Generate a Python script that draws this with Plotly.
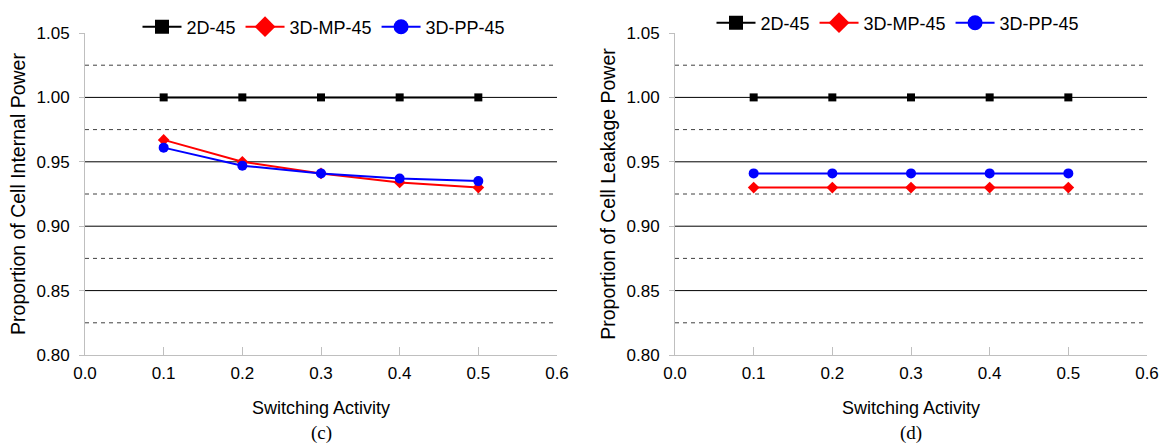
import plotly.graph_objects as go

# ---- data ----
switching = [0.1, 0.2, 0.3, 0.4, 0.5]
series_names = ["2D-45", "3D-MP-45", "3D-PP-45"]

internal_2d = [1.000, 1.000, 1.000, 1.000, 1.000]
internal_mp = [0.967, 0.950, 0.941, 0.934, 0.930]
internal_pp = [0.961, 0.947, 0.941, 0.937, 0.935]

leakage_2d = [1.000, 1.000, 1.000, 1.000, 1.000]
leakage_mp = [0.930, 0.930, 0.930, 0.930, 0.930]
leakage_pp = [0.941, 0.941, 0.941, 0.941, 0.941]

y_titles = ["Proportion of Cell Internal Power", "Proportion of Cell Leakage Power"]
panel_labels = ["(c)", "(d)"]
x_title = "Switching Activity"

solid_grid = [0.85, 0.90, 0.95, 1.00]
dashed_grid = [0.825, 0.875, 0.925, 0.975, 1.025]

# ---- styles ----
W, H = 1164, 448
FONT = "Arial, Liberation Sans, sans-serif"
colors = ["#000000", "#ff0000", "#0000ff"]
symbols = ["square", "diamond", "circle"]
plot_sizes = [8, 9, 10]
legend_sizes = [14, 16, 15]

x_domains = [[85 / W, 557 / W], [675 / W, 1147 / W]]
y_domain = [1 - 355 / H, 1 - 33 / H]

fig = go.Figure()

panels = [
    (internal_2d, internal_mp, internal_pp),
    (leakage_2d, leakage_mp, leakage_pp),
]

for p, values in enumerate(panels):
    xa = "x" if p == 0 else "x2"
    ya = "y" if p == 0 else "y2"
    leg = "legend" if p == 0 else "legend2"
    for i, (name, vals) in enumerate(zip(series_names, values)):
        fig.add_trace(go.Scatter(
            x=switching, y=vals, name=name, mode="lines+markers",
            line=dict(color=colors[i], width=2),
            marker=dict(symbol=symbols[i], size=plot_sizes[i], color=colors[i]),
            xaxis=xa, yaxis=ya, showlegend=False,
        ))
    # legend entries (larger symbols, like the original)
    for i, name in enumerate(series_names):
        fig.add_trace(go.Scatter(
            x=[None], y=[None], name=name, mode="lines+markers",
            line=dict(color=colors[i], width=2),
            marker=dict(symbol=symbols[i], size=legend_sizes[i], color=colors[i]),
            xaxis=xa, yaxis=ya, showlegend=True, legend=leg,
        ))

axis_common_x = dict(
    range=[0, 0.6], dtick=0.1, tick0=0, tickformat=".1f", automargin=False,
    showgrid=False, zeroline=False, showline=True, linecolor="#bfbfbf", linewidth=1,
    ticks="inside", ticklen=8, tickcolor="#bfbfbf", ticklabelstandoff=3,
    tickfont=dict(family=FONT, size=17, color="#000"),
    title=dict(text=x_title, font=dict(family=FONT, size=18, color="#000"), standoff=18),
)
axis_common_y = dict(
    range=[0.8, 1.05], dtick=0.05, tick0=0.8, tickformat=".2f", automargin=False,
    showgrid=False, zeroline=False, showline=True, linecolor="#bfbfbf", linewidth=1,
    ticks="outside", ticklen=5, tickcolor="#bfbfbf", ticklabelstandoff=6,
    tickfont=dict(family=FONT, size=17, color="#000"),
    domain=y_domain,
)

legend_common = dict(orientation="h", xanchor="center", yanchor="middle", itemwidth=39,
                     font=dict(family=FONT, size=18, color="#000"), bgcolor="rgba(0,0,0,0)")

ytitle_font = dict(family=FONT, size=19.5, color="#000")

fig.update_layout(
    width=W, height=H,
    margin=dict(l=0, r=0, t=0, b=0, autoexpand=False),
    paper_bgcolor="white", plot_bgcolor="white",
    xaxis=dict(domain=x_domains[0], anchor="y", **axis_common_x),
    xaxis2=dict(domain=x_domains[1], anchor="y2", **axis_common_x),
    yaxis=dict(anchor="x", title=dict(text=y_titles[0], font=ytitle_font, standoff=5), **axis_common_y),
    yaxis2=dict(anchor="x2", title=dict(text=y_titles[1], font=ytitle_font, standoff=5), **axis_common_y),
    legend=dict(x=324 / W, y=1 - 27 / H, **legend_common),
    legend2=dict(x=898 / W, y=1 - 23 / H, **legend_common),
    showlegend=True,
)

shapes = []
for p in range(2):
    xr = "x domain" if p == 0 else "x2 domain"
    yr = "y" if p == 0 else "y2"
    for g in solid_grid:
        shapes.append(dict(type="line", xref=xr, yref=yr, x0=0, x1=1, y0=g, y1=g,
                           line=dict(color="#000000", width=1), layer="below"))
    for g in dashed_grid:
        shapes.append(dict(type="line", xref=xr, yref=yr, x0=0, x1=1, y0=g, y1=g,
                           line=dict(color="#404040", width=1, dash="4px,4px"), layer="below"))
fig.update_layout(shapes=shapes)

for p in range(2):
    cx = (x_domains[p][0] + x_domains[p][1]) / 2
    fig.add_annotation(text=panel_labels[p], xref="paper", yref="paper", x=cx, y=1 - 433 / H,
                       xanchor="center", yanchor="middle", showarrow=False,
                       font=dict(family="Liberation Serif, Times New Roman, serif", size=19, color="#000"))

fig.write_html("out.html", config={"displayModeBar": False},
               post_script="document.body.style.margin='0px';")
